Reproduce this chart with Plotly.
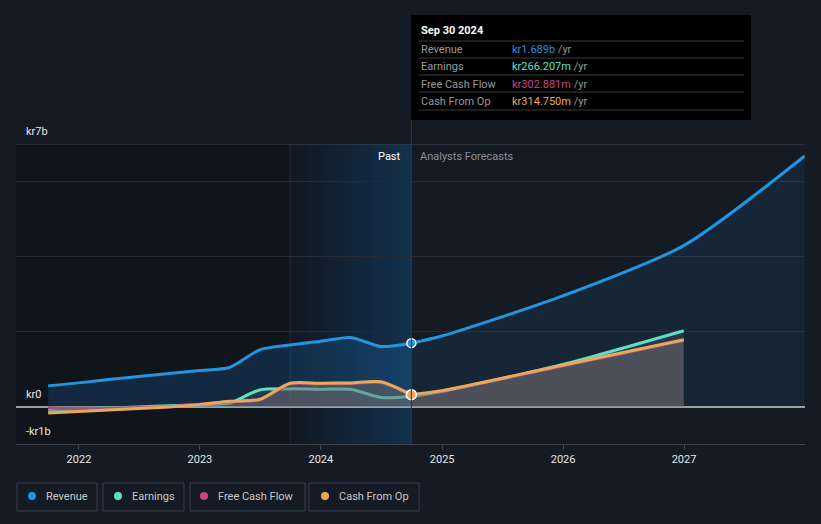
import plotly.graph_objects as go
import datetime as _dt

# ---------------- data (values in kr billions) ----------------
past_dates = ["2021-09-30", "2021-12-31", "2022-03-31", "2022-06-30", "2022-09-30",
              "2022-12-31", "2023-03-31", "2023-06-30", "2023-09-30", "2023-12-31",
              "2024-03-31", "2024-06-30", "2024-09-30"]
revenue_past = [0.55, 0.63, 0.72, 0.80, 0.88, 0.96, 1.04, 1.51, 1.64, 1.74, 1.84, 1.60, 1.689]
earnings_past = [-0.10, -0.07, -0.04, -0.01, 0.02, 0.05, 0.09, 0.44, 0.47, 0.46, 0.46, 0.24, 0.266]
fcf_past = [-0.03, -0.06, -0.05, -0.03, 0.00, 0.06, 0.13, 0.17, 0.60, 0.60, 0.61, 0.64, 0.303]
cfo_past = [-0.17, -0.13, -0.09, -0.05, -0.01, 0.05, 0.14, 0.19, 0.62, 0.62, 0.63, 0.66, 0.315]

fc_dates = ["2024-09-30", "2024-12-31", "2025-12-31", "2026-12-31", "2027-12-31"]
revenue_fc = [1.689, 1.88, 2.95, 4.29, 6.68]
fc_dates_cf = ["2024-09-30", "2024-12-31", "2025-12-31", "2026-12-31"]
earnings_fc = [0.266, 0.40, 1.12, 2.02]
fcf_fc = [0.303, 0.41, 1.08, 1.76]
cfo_fc = [0.315, 0.42, 1.10, 1.78]

year_ticks = ["2022-01-01", "2023-01-01", "2024-01-01", "2025-01-01", "2026-01-01", "2027-01-01"]
year_labels = ["2022", "2023", "2024", "2025", "2026", "2027"]
y_ticks = [-1, 0, 2, 4, 6, 7]
y_labels = {7: "kr7b", 0: "kr0", -1: "-kr1b"}

series_names = ["Revenue", "Earnings", "Free Cash Flow", "Cash From Op"]
series_colors = ["#2394df", "#5fe0c4", "#c8457f", "#eaa85f"]
tooltip_date = "Sep 30 2024"
tooltip_values = ["kr1.689b", "kr266.207m", "kr302.881m", "kr314.750m"]

x_range = ["2021-06-25", "2028-01-01"]
highlight_start = "2023-09-30"
now_date = "2024-09-30"

BG = "#151b25"
FONT = "Roboto, sans-serif"

# ---------------- geometry helpers (pixels -> paper) ----------------
W, H = 821, 524
ML, MR, MT, MB = 16, 16, 144, 80
PW, PH = W - ML - MR, H - MT - MB


def px(x):
    return (x - ML) / PW


def py(y):
    return (H - MB - y) / PH


fig = go.Figure()

REV_C, EARN_C, FCF_C, CFO_C = series_colors
spline = dict(shape="spline", smoothing=0.7)
GREY_FILL_A = "rgba(108,106,112,0.25)"
GREY_FILL_B = "rgba(108,106,112,0.5)"

# revenue past / forecast
fig.add_trace(go.Scatter(x=past_dates, y=revenue_past, mode="lines",
                         line=dict(color=REV_C, width=3, **spline),
                         fill="tozeroy", fillcolor="rgba(33,150,243,0.17)"))
fig.add_trace(go.Scatter(x=fc_dates, y=revenue_fc, mode="lines",
                         line=dict(color=REV_C, width=3, **spline),
                         fill="tozeroy", fillcolor="rgba(33,150,243,0.09)"))

# earnings
fig.add_trace(go.Scatter(x=past_dates, y=earnings_past, mode="lines",
                         line=dict(color=EARN_C, width=3, **spline),
                         fill="tozeroy", fillcolor=GREY_FILL_A))
fig.add_trace(go.Scatter(x=fc_dates_cf, y=earnings_fc, mode="lines",
                         line=dict(color=EARN_C, width=3, **spline),
                         fill="tozeroy", fillcolor=GREY_FILL_A))
# free cash flow
fig.add_trace(go.Scatter(x=past_dates, y=fcf_past, mode="lines",
                         line=dict(color=FCF_C, width=3, **spline)))
fig.add_trace(go.Scatter(x=fc_dates_cf, y=fcf_fc, mode="lines",
                         line=dict(color=FCF_C, width=3, **spline)))
# cash from op
fig.add_trace(go.Scatter(x=past_dates, y=cfo_past, mode="lines",
                         line=dict(color=CFO_C, width=3, **spline),
                         fill="tozeroy", fillcolor=GREY_FILL_B))
fig.add_trace(go.Scatter(x=fc_dates_cf, y=cfo_fc, mode="lines",
                         line=dict(color=CFO_C, width=3, **spline),
                         fill="tozeroy", fillcolor=GREY_FILL_B))

# markers at the "now" point
fig.add_trace(go.Scatter(x=[past_dates[-1]], y=[revenue_past[-1]], mode="markers",
                         marker=dict(color=REV_C, size=9, line=dict(color="white", width=1.5))))
fig.add_trace(go.Scatter(x=[past_dates[-1]], y=[cfo_past[-1]], mode="markers",
                         marker=dict(color=CFO_C, size=10, line=dict(color="white", width=1.5))))

shapes = []
# dark past region
shapes.append(dict(type="rect", xref="x", yref="paper", x0=x_range[0], x1=highlight_start,
                   y0=0, y1=1, fillcolor="#10141b", line=dict(width=0), layer="below"))
# highlight gradient region (overlapping opaque slices)
d0 = _dt.date.fromisoformat(highlight_start)
d1 = _dt.date.fromisoformat(now_date)
n = 30
c0 = (17, 24, 34)
c1 = (20, 49, 76)
for i in range(n):
    a = d0 + (d1 - d0) * i / n
    t = (i + 0.5) / n
    col = tuple(int(round(c0[k] + (c1[k] - c0[k]) * t)) for k in range(3))
    shapes.append(dict(type="rect", xref="x", yref="paper", x0=a.isoformat(), x1=now_date,
                       y0=0, y1=1, fillcolor="rgb(%d,%d,%d)" % col, line=dict(width=0), layer="below"))
shapes.append(dict(type="line", xref="x", yref="paper", x0=highlight_start, x1=highlight_start,
                   y0=0, y1=1, line=dict(color="#1b2c3d", width=1), layer="below"))
# top gridline at 7
shapes.append(dict(type="line", xref="paper", yref="y", x0=0, x1=1, y0=7, y1=7,
                   line=dict(color="#3c414a", width=1), layer="below"))
# now vertical line
shapes.append(dict(type="line", xref="x", yref="paper", x0=now_date, x1=now_date,
                   y0=0, y1=py(120), line=dict(color="#22384d", width=1), layer="above"))
# tooltip box
shapes.append(dict(type="rect", xref="paper", yref="paper", x0=px(411), x1=px(751),
                   y0=py(120), y1=py(15), fillcolor="#000000", line=dict(width=0), layer="above"))
for sy in [41, 58, 75, 92, 110]:
    shapes.append(dict(type="line", xref="paper", yref="paper", x0=px(419), x1=px(744),
                       y0=py(sy), y1=py(sy), line=dict(color="#3a3a3a", width=1), layer="above"))

annotations = []
annotations.append(dict(xref="paper", yref="paper", x=px(419), y=py(31), xanchor="left",
                        yanchor="middle", showarrow=False, text="<b>" + tooltip_date + "</b>",
                        font=dict(family=FONT, size=11, color="#ffffff")))
for i, (nm, val, col) in enumerate(zip(series_names, tooltip_values, series_colors)):
    yy = [49, 66, 84, 101][i]
    annotations.append(dict(xref="paper", yref="paper", x=px(419), y=py(yy), xanchor="left",
                            yanchor="middle", showarrow=False, text=nm,
                            font=dict(family=FONT, size=11, color="#9a9a9a")))
    annotations.append(dict(xref="paper", yref="paper", x=px(510), y=py(yy), xanchor="left",
                            yanchor="middle", showarrow=False,
                            text="<span style='color:%s'>%s</span> /yr" % (col, val),
                            font=dict(family=FONT, size=11, color="#9a9a9a")))

# y labels
for val, lab in y_labels.items():
    annotations.append(dict(xref="paper", yref="y", x=px(24), y=val, xanchor="left",
                            yanchor="bottom", yshift=4, showarrow=False, text=lab,
                            font=dict(family=FONT, size=11, color="#e6e6e6")))

annotations.append(dict(xref="x", yref="paper", x=now_date, y=py(156), xanchor="right",
                        yanchor="middle", xshift=-8, showarrow=False, text="Past",
                        font=dict(family=FONT, size=11, color="#ffffff")))
annotations.append(dict(xref="x", yref="paper", x=now_date, y=py(156), xanchor="left",
                        yanchor="middle", xshift=7, showarrow=False, text="Analysts Forecasts",
                        font=dict(family=FONT, size=11, color="#8a8f98")))

# legend boxes
legend_boxes = [(17, 97, 32), (103, 184, 118), (190, 305, 204), (309, 419, 325)]
for (bx0, bx1, dx), nm, col in zip(legend_boxes, series_names, series_colors):
    shapes.append(dict(type="rect", xref="paper", yref="paper", x0=px(bx0), x1=px(bx1),
                       y0=py(511), y1=py(483), line=dict(color="#3a404c", width=1),
                       fillcolor="rgba(0,0,0,0)"))
    shapes.append(dict(type="circle", xref="paper", yref="paper", x0=px(dx - 4), x1=px(dx + 4),
                       y0=py(500), y1=py(492), fillcolor=col, line=dict(width=0)))
    annotations.append(dict(xref="paper", yref="paper", x=px(dx + 12), y=py(496.5), xanchor="left",
                            yanchor="middle", showarrow=False, text=nm,
                            font=dict(family=FONT, size=11, color="#c8c8c8")))

fig.update_layout(
    width=W, height=H,
    margin=dict(l=ML, r=MR, t=MT, b=MB),
    paper_bgcolor=BG, plot_bgcolor=BG,
    showlegend=False, hovermode=False,
    shapes=shapes, annotations=annotations,
    font=dict(family=FONT, size=11, color="#e0e0e0"),
    xaxis=dict(type="date", range=x_range, tickvals=year_ticks, ticktext=year_labels,
               showgrid=False, zeroline=False, showline=True, linecolor="#3c414a", linewidth=1,
               ticks="outside", ticklen=5, tickcolor="#3c414a",
               tickfont=dict(family=FONT, size=11, color="#e6e6e6")),
    yaxis=dict(range=[-1, 7], tickvals=y_ticks, showticklabels=False,
               showgrid=True, gridcolor="#252b35", gridwidth=1,
               zeroline=True, zerolinecolor="#a0a0a0", zerolinewidth=2, fixedrange=True),
)

fig.write_html("out.html", config={"displayModeBar": False},
               post_script="document.body.style.margin='0';document.body.style.background='%s';" % BG)
